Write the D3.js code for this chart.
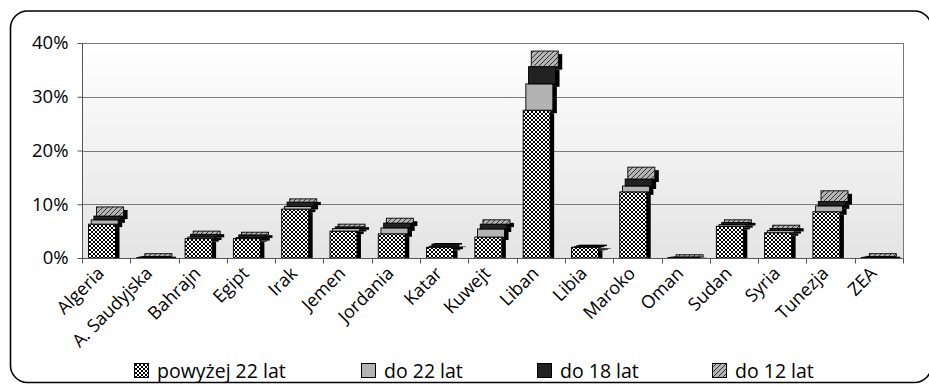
<!DOCTYPE html>
<html>
<head>
<meta charset="utf-8">
<script src="https://cdn.jsdelivr.net/npm/d3@7"></script>
<style>
  html, body { margin: 0; padding: 0; background: #fff; }
  svg { display: block; font-family: "Open Sans", "Noto Sans", sans-serif; }
</style>
</head>
<body>
<svg id="chart" width="929" height="385"></svg>
<script>
// Countries along the x axis
const categories = ["Algeria", "A. Saudyjska", "Bahrajn", "Egipt", "Irak", "Jemen", "Jordania",
  "Katar", "Kuwejt", "Liban", "Libia", "Maroko", "Oman", "Sudan", "Syria", "Tunezja", "ZEA"];

// Stacked shares (%) per age group, bottom to top
const series = ["powyżej 22 lat", "do 22 lat", "do 18 lat", "do 12 lat"];
const above22 = [6.3, 0.1, 3.6, 3.6, 9.1, 5.0, 4.5, 2.0, 3.9, 27.5, 2.0, 12.3, 0.1, 5.9, 4.7, 8.6, 0.1];
const upTo22  = [0.8, 0.1, 0.3, 0.2, 0.5, 0.5, 1.1, 0.2, 1.5, 4.9, 0.1, 1.1, 0.05, 0.3, 0.4, 1.1, 0.1];
const upTo18  = [0.7, 0.1, 0.5, 0.5, 0.8, 0.3, 0.9, 0.4, 0.9, 3.2, 0.2, 1.3, 0.05, 0.4, 0.4, 0.8, 0.1];
const upTo12  = [1.7, 0.5, 0.6, 0.5, 0.6, 0.5, 0.9, 0.1, 0.8, 2.9, 0.1, 2.2, 0.4, 0.5, 0.6, 2.0, 0.5];
const yTicks = [0, 10, 20, 30, 40];

const values = [above22, upTo22, upTo18, upTo12];

const svg = d3.select("#chart");
const defs = svg.append("defs");

// Fills
const cross = defs.append("pattern").attr("id", "pCross").attr("patternUnits", "userSpaceOnUse")
  .attr("width", 4).attr("height", 4);
cross.append("rect").attr("width", 4).attr("height", 4).attr("fill", "#fff");
cross.append("path").attr("d", "M0,0L4,4M4,0L0,4").attr("stroke", "#000").attr("stroke-width", 1);

const hatch = defs.append("pattern").attr("id", "pHatch").attr("patternUnits", "userSpaceOnUse")
  .attr("width", 5).attr("height", 5);
hatch.append("rect").attr("width", 5).attr("height", 5).attr("fill", "#b4b4b4");
hatch.append("path").attr("d", "M-1,6L6,-1M-1,1L1,-1M4,6L6,4").attr("stroke", "#333").attr("stroke-width", 1);

const bg = defs.append("linearGradient").attr("id", "gBg").attr("x1", 0).attr("y1", 0).attr("x2", 0).attr("y2", 1);
bg.append("stop").attr("offset", "0%").attr("stop-color", "#ffffff");
bg.append("stop").attr("offset", "100%").attr("stop-color", "#e4e4e4");

const fills = ["url(#pCross)", "#b3b3b3", "#222222", "url(#pHatch)"];

// Outer rounded frame
svg.append("rect").attr("x", 10.5).attr("y", 11).attr("width", 921).attr("height", 371.5)
  .attr("rx", 17).attr("fill", "#fff").attr("stroke", "#000").attr("stroke-width", 1.6);

// Plot area
const plotLeft = 82, plotRight = 903, plotTop = 43, plotBottom = 258;
const x = d3.scaleBand().domain(categories).range([plotLeft, plotRight]).padding(0);
const y = d3.scaleLinear().domain([0, 40]).range([plotBottom, plotTop]);

defs.append("clipPath").attr("id", "plotClip").append("rect")
  .attr("x", plotLeft).attr("y", 0).attr("width", plotRight - plotLeft + 20).attr("height", plotBottom);

svg.append("rect").attr("x", plotLeft).attr("y", plotTop)
  .attr("width", plotRight - plotLeft).attr("height", plotBottom - plotTop)
  .attr("fill", "url(#gBg)");

// Gridlines
svg.append("g").selectAll("line").data(yTicks.slice(1)).join("line")
  .attr("x1", plotLeft).attr("x2", plotRight)
  .attr("y1", d => Math.round(y(d)) + 0.5).attr("y2", d => Math.round(y(d)) + 0.5)
  .attr("stroke", "#7a7a7a").attr("stroke-width", 1);

// Right border
svg.append("line").attr("x1", plotRight + 0.5).attr("x2", plotRight + 0.5)
  .attr("y1", plotTop).attr("y2", plotBottom + 4)
  .attr("stroke", "#7a7a7a");

// Stacked bars with a dark offset side
const rows = categories.map((c, ci) => {
  let cum = 0;
  return values.map((arr, si) => {
    const s = { c, si, y0: cum, y1: cum + arr[ci] };
    cum += arr[ci];
    return s;
  });
});
const segs = rows.flat();
const barW = 27, shift = 2.7, inset = 6.5, depthX = 4, depthY = 3;
const bx = d => x(d.c) + inset + d.si * shift;

const barG = svg.append("g").attr("clip-path", "url(#plotClip)");
barG.selectAll("rect.side").data(segs).join("rect").attr("class", "side")
  .attr("x", d => bx(d) + depthX)
  .attr("y", d => y(d.y1) + depthY)
  .attr("width", barW)
  .attr("height", d => Math.max(0.6, y(d.y0) - y(d.y1)))
  .attr("fill", "#000");
barG.selectAll("rect.face").data(segs).join("rect").attr("class", "face")
  .attr("x", d => bx(d))
  .attr("y", d => y(d.y1))
  .attr("width", barW)
  .attr("height", d => Math.max(0.6, y(d.y0) - y(d.y1)))
  .attr("fill", d => fills[d.si])
  .attr("stroke", "#000").attr("stroke-width", 0.9);

// Y axis
const yAxis = svg.append("g").attr("transform", `translate(${plotLeft + 0.5},0)`)
  .call(d3.axisLeft(y).tickValues(yTicks).tickSize(5).tickPadding(9).tickFormat(d => d + "%"));
yAxis.select(".domain").attr("stroke", "#555").attr("d", `M0,${plotTop}V${plotBottom}`);
yAxis.selectAll(".tick line").attr("stroke", "#555");
yAxis.selectAll(".tick text").attr("font-size", 18.5).attr("fill", "#000")
  .attr("font-family", "'Open Sans', sans-serif");

// X axis
const xAxis = svg.append("g").attr("transform", `translate(0,${plotBottom + 0.5})`);
xAxis.append("line").attr("x1", plotLeft).attr("x2", plotRight).attr("stroke", "#555");
xAxis.selectAll("line.tk").data(d3.range(categories.length + 1)).join("line").attr("class", "tk")
  .attr("x1", i => Math.round(plotLeft + i * x.bandwidth()) + 0.5)
  .attr("x2", i => Math.round(plotLeft + i * x.bandwidth()) + 0.5)
  .attr("y1", 0).attr("y2", 5).attr("stroke", "#555");
xAxis.selectAll("text").data(categories).join("text")
  .attr("transform", d => `translate(${x(d) + x.bandwidth() / 2 - 1},${16}) rotate(-45)`)
  .attr("text-anchor", "end")
  .attr("font-size", 18)
  .attr("fill", "#000")
  .text(d => d);

// Legend
const legendX = [134, 361, 537, 712];
const lg = svg.append("g").selectAll("g").data(series).join("g")
  .attr("transform", (d, i) => `translate(${legendX[i]},363)`);
lg.append("rect").attr("x", 0.5).attr("y", 0.5).attr("width", 14).attr("height", 14)
  .attr("fill", (d, i) => fills[i]).attr("stroke", "#000").attr("stroke-width", 1);
lg.append("text").attr("x", 23).attr("y", 14.5).attr("font-size", 19.5).attr("fill", "#000").text(d => d);
</script>
</body>
</html>
